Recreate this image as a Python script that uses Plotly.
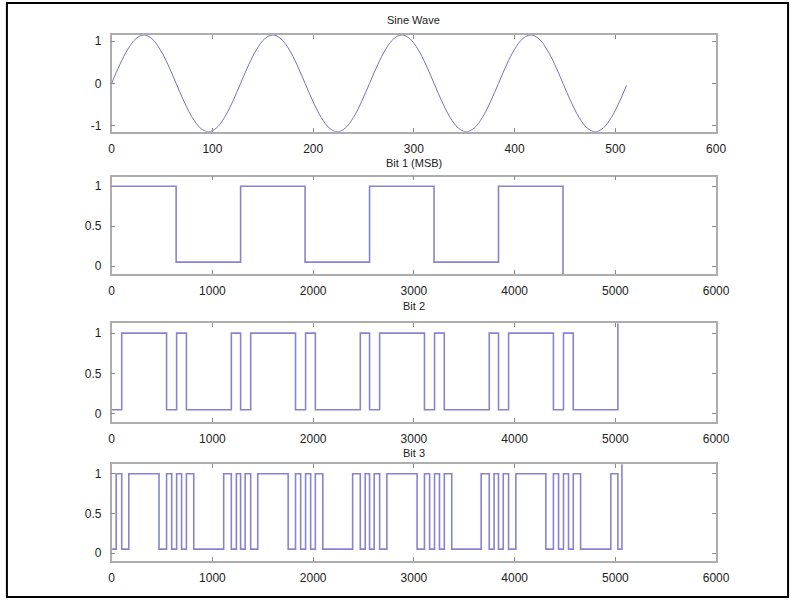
import plotly.graph_objects as go

W, H = 805, 600

# ---------------- data ----------------
sine_x = [0, 8, 16, 24, 32, 40, 48, 56, 64, 72, 80, 88, 96, 104, 112, 120,
          128, 136, 144, 152, 160, 168, 176, 184, 192, 200, 208, 216, 224, 232, 240, 248,
          256, 264, 272, 280, 288, 296, 304, 312, 320, 328, 336, 344, 352, 360, 368, 376,
          384, 392, 400, 408, 416, 424, 432, 440, 448, 456, 464, 472, 480, 488, 496, 504, 511]
sine_y = [0, 0.44, 0.81, 1.06, 1.15, 1.06, 0.81, 0.44, 0, -0.44, -0.81, -1.06, -1.15, -1.06, -0.81, -0.44,
          0, 0.44, 0.81, 1.06, 1.15, 1.06, 0.81, 0.44, 0, -0.44, -0.81, -1.06, -1.15, -1.06, -0.81, -0.44,
          0, 0.44, 0.81, 1.06, 1.15, 1.06, 0.81, 0.44, 0, -0.44, -0.81, -1.06, -1.15, -1.06, -0.81, -0.44,
          0, 0.44, 0.81, 1.06, 1.15, 1.06, 0.81, 0.44, 0, -0.44, -0.81, -1.06, -1.15, -1.06, -0.81, -0.44, -0.05]

bit1_x = [0, 640, 1280, 1920, 2560, 3200, 3840, 4480]
bit1_y = [1, 0.05, 1, 0.05, 1, 0.05, 1, -0.1]

bit2_x = [0, 100, 545, 645, 742, 1188, 1280, 1380, 1825, 1925, 2022, 2468, 2560,
          2660, 3105, 3205, 3302, 3748, 3840, 3940, 4385, 4485, 4582, 5025]
bit2_y = [0.05, 1, 0.05, 1, 0.05, 1, 0.05, 1, 0.05, 1, 0.05, 1, 0.05,
          1, 0.05, 1, 0.05, 1, 0.05, 1, 0.05, 1, 0.05, 1.15]

bit3_x = [0, 45, 100, 170, 470, 545, 596, 645, 694, 742, 815, 1112, 1188, 1238, 1280,
          1325, 1380, 1450, 1752, 1825, 1876, 1925, 1975, 2022, 2096, 2392, 2468, 2517, 2560,
          2606, 2660, 2732, 3032, 3105, 3156, 3205, 3254, 3302, 3376, 3668, 3748, 3796, 3840,
          3887, 3940, 4012, 4310, 4385, 4436, 4485, 4535, 4582, 4655, 4955, 5025, 5065]
bit3_y = [0.05, 1, 0.05, 1, 0.05, 1, 0.05, 1, 0.05, 1, 0.05, 1, 0.05, 1, 0.05,
          1, 0.05, 1, 0.05, 1, 0.05, 1, 0.05, 1, 0.05, 1, 0.05, 1, 0.05,
          1, 0.05, 1, 0.05, 1, 0.05, 1, 0.05, 1, 0.05, 1, 0.05, 1, 0.05,
          1, 0.05, 1, 0.05, 1, 0.05, 1, 0.05, 1, 0.05, 1, 0.05, 1.15]

titles = ["Sine Wave", "Bit 1 (MSB)", "Bit 2", "Bit 3"]
sine_xticks = [0, 100, 200, 300, 400, 500, 600]
bit_xticks = [0, 1000, 2000, 3000, 4000, 5000, 6000]
sine_yticks = [-1, 0, 1]
sine_ytext = ["-1", "0", "1"]
bit_yticks = [0, 0.5, 1]
bit_ytext = ["0", "0.5", "1"]

# ---------------- layout helpers ----------------
FONT = "Liberation Sans"
LINE_COL = "#8783d2"
AX_COL = "#adadad"

x_dom = [111 / W, 728.5 / W]
boxes_px = [(35, 132), (177, 274.5), (324, 422.5), (465, 562)]
title_px = [20, 163, 307, 454]

def ydom(top, bot):
    return [1 - bot / H, 1 - top / H]

fig = go.Figure()

fig.add_trace(go.Scatter(x=sine_x, y=sine_y, mode="lines", line=dict(color="#7470c4", width=1, shape="spline"),
                         xaxis="x", yaxis="y", showlegend=False))
fig.add_trace(go.Scatter(x=bit1_x, y=bit1_y, mode="lines", line=dict(color=LINE_COL, width=1.6, shape="hv"),
                         xaxis="x2", yaxis="y2", showlegend=False))
fig.add_trace(go.Scatter(x=bit2_x, y=bit2_y, mode="lines", line=dict(color=LINE_COL, width=1.6, shape="hv"),
                         xaxis="x3", yaxis="y3", showlegend=False))
fig.add_trace(go.Scatter(x=bit3_x, y=bit3_y, mode="lines", line=dict(color=LINE_COL, width=1.6, shape="hv"),
                         xaxis="x4", yaxis="y4", showlegend=False))

common = dict(showline=True, linecolor=AX_COL, linewidth=1.5, mirror="allticks", ticks="inside",
              ticklen=4, tickcolor="#8a8a8a", tickwidth=1, showgrid=False, zeroline=False,
              tickfont=dict(family=FONT, size=12, color="#222"))

layout = dict(width=W, height=H, margin=dict(l=0, r=0, t=0, b=0),
              paper_bgcolor="white", plot_bgcolor="white")

for i in range(4):
    sfx = "" if i == 0 else str(i + 1)
    top, bot = boxes_px[i]
    if i == 0:
        xr, xt, yr, yt, ytx = [0, 600], sine_xticks, [-1.15, 1.15], sine_yticks, sine_ytext
    else:
        xr, xt, yr, yt, ytx = [0, 6000], bit_xticks, [-0.1, 1.12], bit_yticks, bit_ytext
    layout["xaxis" + sfx] = dict(domain=x_dom, range=xr, tickvals=xt, anchor="y" + sfx,
                                 ticklabelstandoff=5, **common)
    layout["yaxis" + sfx] = dict(domain=ydom(top, bot), range=yr, tickvals=yt, ticktext=ytx,
                                 anchor="x" + sfx, ticklabelstandoff=6, **common)

fig.update_layout(**layout)

for i, t in enumerate(titles):
    fig.add_annotation(text=t, xref="paper", yref="paper", x=(111 + 728.5) / 2 / W,
                       y=1 - title_px[i] / H, xanchor="center", yanchor="middle",
                       showarrow=False, font=dict(family=FONT, size=11, color="#222"))

# outer black frame
fig.add_shape(type="rect", xref="paper", yref="paper", x0=4 / W, x1=802 / W,
              y0=1 - 598 / H, y1=1 - 3 / H, line=dict(color="black", width=2))

fig.write_html("out.html")
